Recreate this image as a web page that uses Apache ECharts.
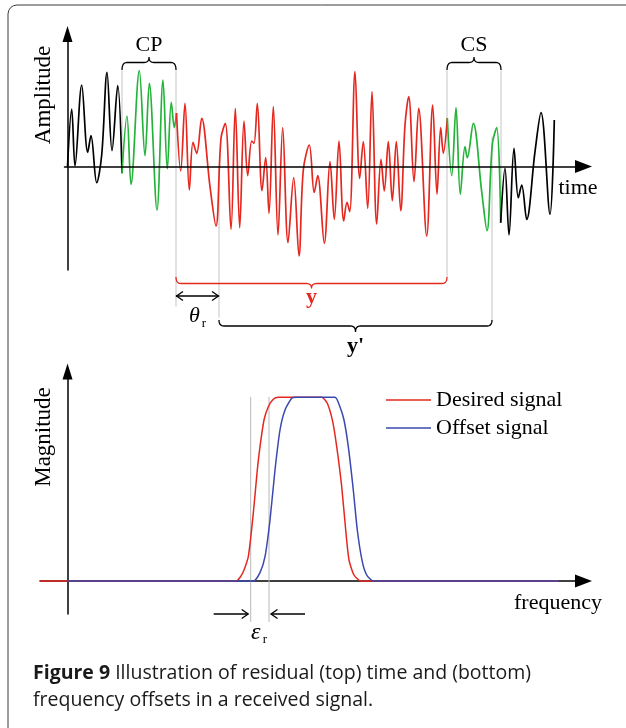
<!DOCTYPE html>
<html><head><meta charset="utf-8">
<script src="https://cdn.jsdelivr.net/npm/echarts@6/dist/echarts.min.js"></script>
<style>html,body{margin:0;padding:0;background:#fff}#c{width:626px;height:728px}</style>
</head><body><div id="c"></div>
<script>
// ---------- top panel: received signal (time units, amplitude units) ----------
const black1 = [[0,0],[4.2,57.5],[7.5,0.5],[14.2,81.5],[20.2,14.2],[23.5,30.8],[29.2,-16.2],[34.2,11.5],[39.5,94.2],[44.5,15.8],[50.2,80.8],[54.5,-6.8]];
const green1 = [[54.5,-6.8],[59.5,50.5],[63.5,-17.8],[71.8,95.8],[77.5,10.8],[81.8,83.2],[89.5,-43.5],[95.5,86.5],[99.8,-2.5],[103.8,64.2],[106.8,38.8],[109,53.5]];
const redSeg = [[109,53.5],[113.2,-4.5],[117.5,63.2],[121.8,-23.5],[125.5,24.2],[129.2,13.2],[134.2,48.2],[142.5,-20.2],[148.5,-59.5],[153.5,28.2],[157.8,43.2],[163.5,-62.8],[167.8,58.2],[172.2,-61.2],[176.5,45.5],[180.2,-9.2],[184.2,25.5],[186.5,23.2],[189.8,63.2],[194.5,-24.2],[198.2,8.8],[201.5,-46.8],[205.8,59.8],[210.5,-68.5],[215.2,38.8],[220.5,-76.2],[226.2,-11.2],[231.5,-89.5],[235.8,-3.5],[241.8,21.5],[246.7,-26],[250.2,-9.2],[256.8,-76.8],[262.5,4.8],[266.8,-52.8],[271.5,25.5],[276.2,-54.5],[279.5,-35.8],[282.2,-45.2],[287.5,94.8],[292.2,-11.8],[295.8,24.8],[300.2,-41.8],[304.5,74.8],[309.2,-57.5],[313.5,7.2],[316.8,-24.5],[320.8,24.8],[324.8,-34.2],[328.8,24.8],[333.2,-44.2],[337.5,41.5],[341.2,69.8],[346.5,-15.2],[351.2,58.2],[359.2,-69.5],[365.2,61.5],[369.5,-27.8],[373.2,38.8],[375.8,13.2],[379.8,48.2]];
const green2 = [[379.8,48.2],[384.2,-9.2],[388.5,58.8],[392.8,-27.8],[397.5,19.8],[399.8,8.8],[405.8,43.2],[414.2,-25.2],[419.5,-64.2],[424.8,22.2],[429.2,38.8],[433.2,-56.2]];
const black2 = [[433.2,-56.2],[437.5,-1.8],[441.5,-68.5],[446.5,18.2],[450.8,-31.2],[454.2,-18.5],[459.2,-52.8],[467.5,14.8],[473.5,53.8],[482.5,-47.8],[486.8,46.5]];

// annotated spans (time units)
const cpSpan = [54.5, 108.5];
const csSpan = [379.5, 433.5];
const ySpan = [108.5, 379.5];
const yPrimeSpan = [151.5, 424.5];

// ---------- bottom panel: spectra (frequency units, magnitude units) ----------
const freqDesired = [[-27.5,0],[168.5,0],[175.2,8],[180.8,24.3],[185.8,67.7],[189.8,111],[192.5,134.3],[196.5,161],[200.8,174.3],[205.8,181.7],[210.8,183.7],[254.2,183.7],[259.8,177.7],[265.2,159.3],[269.2,134.3],[274.2,94.3],[278.2,51],[281.5,21],[286.5,6],[293.2,0],[491,0]];
const freqOffset = [[0,0],[185.8,0],[192.5,8.3],[197.5,24.3],[202.5,61],[207.5,111],[212.5,151],[217.5,171],[224.2,182.7],[228.5,183.7],[267.5,183.7],[271.8,176],[276.5,161],[280.8,134.3],[285.8,91],[289.8,51],[294.8,19.3],[299.2,6],[305.8,0],[491,0]];
const epsLines = [183.2, 201.5];
const seriesNames = ['Desired signal', 'Offset signal'];

const SERIF = '"Liberation Serif", "Times New Roman", serif';
const SANS = '"Open Sans", sans-serif';
const RED = '#e5281f', GREEN = '#25b33b', BLUE = '#3b48ad';

function quad(p0, p1, p2, n) {
  const pts = [];
  for (let i = 0; i <= n; i++) {
    const s = i / n, a = (1 - s) * (1 - s), b = 2 * (1 - s) * s, c = s * s;
    pts.push([a * p0[0] + b * p1[0] + c * p2[0], a * p0[1] + b * p1[1] + c * p2[1]]);
  }
  return pts;
}
function bracePts(x1, x2, yEnd, yLine, yTip) {
  const r = 5, cx = (x1 + x2) / 2, n = 8;
  return [].concat(
    quad([x1, yEnd], [x1, yLine], [x1 + r, yLine], n),
    quad([cx - r, yLine], [cx, yLine], [cx, yTip], n),
    quad([cx, yTip], [cx, yLine], [cx + r, yLine], n),
    quad([x2 - r, yLine], [x2, yLine], [x2, yEnd], n));
}
function txt(x, y, text, size, extra) {
  return {type: 'text', x: x, y: y, style: Object.assign({
    text: text, fontFamily: SERIF, fontSize: size, fill: '#000', align: 'center', verticalAlign: 'middle'}, extra || {})};
}

function renderTop(params, api) {
  if (params.dataIndex !== 0) return;
  const X = t => api.coord([t, 0])[0];
  const y0 = api.coord([0, 0])[1];
  const kids = [];
  const gray = {stroke: '#c4c4c4', lineWidth: 1};
  const vline = (t, a, b) => kids.push({type: 'line', shape: {x1: X(t), y1: y0 + a, x2: X(t), y2: y0 + b}, style: gray});
  vline(cpSpan[0], -96, 4);
  vline(cpSpan[1], -96, 140);
  vline(yPrimeSpan[0], 0, 151);
  vline(csSpan[0], -96, 111);
  vline(yPrimeSpan[1], -30, 154);
  vline(csSpan[1], -96, 56);
  const brace = (span, yEnd, yLine, yTip, color) => kids.push({type: 'polyline',
    shape: {points: bracePts(X(span[0]), X(span[1]), y0 + yEnd, y0 + yLine, y0 + yTip)},
    style: {stroke: color, lineWidth: 1.3, fill: null}});
  brace(cpSpan, -96.5, -104, -109.5, '#000');
  brace(csSpan, -96.5, -104, -109.5, '#000');
  brace(ySpan, 110.5, 117, 122, RED);
  brace(yPrimeSpan, 153.5, 159.5, 165.5, '#000');
  // theta_r double arrow
  const ax1 = X(ySpan[0]), ax2 = X(yPrimeSpan[0]), ay = y0 + 129.5;
  kids.push({type: 'line', shape: {x1: ax1, y1: ay, x2: ax2, y2: ay}, style: {stroke: '#000', lineWidth: 1.5}});
  kids.push({type: 'polyline', shape: {points: [[ax1 + 7, ay - 4.5], [ax1 + 0.5, ay], [ax1 + 7, ay + 4.5]]}, style: {stroke: '#000', lineWidth: 1.3, fill: null}});
  kids.push({type: 'polyline', shape: {points: [[ax2 - 7, ay - 4.5], [ax2 - 0.5, ay], [ax2 - 7, ay + 4.5]]}, style: {stroke: '#000', lineWidth: 1.3, fill: null}});
  // labels
  kids.push(txt((X(cpSpan[0]) + X(cpSpan[1])) / 2, y0 - 121, 'CP', 22));
  kids.push(txt((X(csSpan[0]) + X(csSpan[1])) / 2, y0 - 121, 'CS', 22));
  kids.push(txt((X(ySpan[0]) + X(ySpan[1])) / 2, y0 + 131, 'y', 22, {fill: RED, fontWeight: 'bold'}));
  kids.push(txt((X(yPrimeSpan[0]) + X(yPrimeSpan[1])) / 2, y0 + 180, "y'", 22, {fontWeight: 'bold'}));
  const tx = (ax1 + ax2) / 2;
  kids.push(txt(tx - 3, y0 + 150, 'θ', 22, {fontStyle: 'italic'}));
  kids.push(txt(tx + 6.5, y0 + 157, 'r', 13));
  return {type: 'group', children: kids};
}

function renderBottom(params, api) {
  if (params.dataIndex !== 0) return;
  const X = t => api.coord([t, 0])[0];
  const y0 = api.coord([0, 0])[1];
  const kids = [];
  const e0 = X(epsLines[0]), e1 = X(epsLines[1]);
  [e0, e1].forEach(x => kids.push({type: 'line', shape: {x1: x, y1: y0 - 184, x2: x, y2: y0 + 41}, style: {stroke: '#b8b8b8', lineWidth: 1}}));
  const ay = y0 + 33;
  kids.push({type: 'line', shape: {x1: e0 - 37, y1: ay, x2: e0 - 2.5, y2: ay}, style: {stroke: '#000', lineWidth: 1.3}});
  kids.push({type: 'polyline', shape: {points: [[e0 - 9, ay - 4.5], [e0 - 2.5, ay], [e0 - 9, ay + 4.5]]}, style: {stroke: '#000', lineWidth: 1.3, fill: null}});
  kids.push({type: 'line', shape: {x1: e1 + 36, y1: ay, x2: e1 + 2, y2: ay}, style: {stroke: '#000', lineWidth: 1.3}});
  kids.push({type: 'polyline', shape: {points: [[e1 + 8.5, ay - 4.5], [e1 + 2, ay], [e1 + 8.5, ay + 4.5]]}, style: {stroke: '#000', lineWidth: 1.3, fill: null}});
  const mx = (e0 + e1) / 2;
  kids.push(txt(mx - 4, y0 + 52, 'ε', 24, {fontStyle: 'italic'}));
  kids.push(txt(mx + 5, y0 + 59, 'r', 13));
  return {type: 'group', children: kids};
}

const chart = echarts.init(document.getElementById('c'), null, {renderer: 'canvas'});
const axisBase = {type: 'value', axisTick: {show: false}, axisLabel: {show: false}, splitLine: {show: false}};
function lineSeries(data, color, xi, extra) {
  return Object.assign({type: 'line', xAxisIndex: xi, yAxisIndex: xi, data: data, symbol: 'none', showSymbol: false,
    lineStyle: {color: color, width: 1.7}, itemStyle: {color: color}, z: 2, silent: true}, extra || {});
}
chart.setOption({
  animation: false,
  backgroundColor: '#fff',
  title: {
    left: 33, top: 660, padding: 0,
    text: '{b|Figure 9} Illustration of residual (top) time and (bottom)\nfrequency offsets in a received signal.',
    textStyle: {fontFamily: SANS, fontSize: 19.5, fontWeight: 'normal', color: '#1a1a1a', lineHeight: 27,
      rich: {b: {fontFamily: SANS, fontSize: 19.5, fontWeight: 'bold', color: '#1a1a1a', lineHeight: 27}}}
  },
  legend: {
    data: seriesNames, orient: 'vertical', left: 386, top: 389, padding: 0,
    icon: 'rect', itemWidth: 45, itemHeight: 1.6, itemGap: 6, selectedMode: false,
    textStyle: {fontFamily: SERIF, fontSize: 22, color: '#000', lineHeight: 21}
  },
  grid: [
    {left: 64.5, top: 34, width: 519, height: 236, containLabel: false, outerBoundsMode: 'none'},
    {left: 40, top: 371.5, width: 543.5, height: 242.5, containLabel: false, outerBoundsMode: 'none'}
  ],
  xAxis: [
    Object.assign({}, axisBase, {gridIndex: 0, min: -3, max: 516, z: 5,
      axisLine: {show: true, onZero: true, symbol: ['none', 'triangle'], symbolSize: [13, 17], lineStyle: {color: '#000', width: 1.5}}}),
    Object.assign({}, axisBase, {gridIndex: 1, min: -27.5, max: 516, z: 0,
      axisLine: {show: true, onZero: true, symbol: ['none', 'triangle'], symbolSize: [13, 17], lineStyle: {color: '#000', width: 1.5}}})
  ],
  yAxis: [
    Object.assign({}, axisBase, {gridIndex: 0, min: -103.5, max: 132.5, z: 5,
      axisLine: {show: true, onZero: true, symbol: ['none', 'triangle'], symbolSize: [10, 16], lineStyle: {color: '#000', width: 1.5}}}),
    Object.assign({}, axisBase, {gridIndex: 1, min: -33, max: 209.5, z: 0,
      axisLine: {show: true, onZero: true, symbol: ['none', 'triangle'], symbolSize: [10, 16], lineStyle: {color: '#000', width: 1.5}}})
  ],
  graphic: [
    {type: 'polyline', silent: true, shape: {points: [[8, 728], [8, 14], [8.7, 10.5], [10.6, 7.6], [13.5, 5.7], [17, 5], [626, 5]]},
      style: {stroke: '#3a3a3a', lineWidth: 1, fill: null}},
    {type: 'text', x: 44, y: 95, rotation: Math.PI / 2, silent: true,
      style: {text: 'Amplitude', fontFamily: SERIF, fontSize: 23, fill: '#000', align: 'center', verticalAlign: 'middle'}},
    {type: 'text', x: 44, y: 437, rotation: Math.PI / 2, silent: true,
      style: {text: 'Magnitude', fontFamily: SERIF, fontSize: 23, fill: '#000', align: 'center', verticalAlign: 'middle'}},
    {type: 'text', x: 578, y: 188, silent: true,
      style: {text: 'time', fontFamily: SERIF, fontSize: 22, fill: '#000', align: 'center', verticalAlign: 'middle'}},
    {type: 'text', x: 558, y: 603, silent: true,
      style: {text: 'frequency', fontFamily: SERIF, fontSize: 22, fill: '#000', align: 'center', verticalAlign: 'middle'}}
  ],
  series: [
    {type: 'custom', xAxisIndex: 0, yAxisIndex: 0, data: [[0, 0]], renderItem: renderTop, z: 1, silent: true, clip: false},
    lineSeries(black1, '#000', 0, {smooth: 0.35}),
    lineSeries(green1, GREEN, 0, {smooth: 0.35}),
    lineSeries(redSeg, RED, 0, {smooth: 0.35}),
    lineSeries(green2, GREEN, 0, {smooth: 0.35}),
    lineSeries(black2, '#000', 0, {smooth: 0.35}),
    {type: 'custom', xAxisIndex: 1, yAxisIndex: 1, data: [[0, 0]], renderItem: renderBottom, z: 1, silent: true, clip: false},
    lineSeries(freqDesired, RED, 1, {name: seriesNames[0], smooth: 0.2, lineStyle: {color: RED, width: 1.5}}),
    lineSeries(freqOffset, BLUE, 1, {name: seriesNames[1], smooth: 0.2, lineStyle: {color: BLUE, width: 1.5}})
  ]
});
</script>
</body></html>
